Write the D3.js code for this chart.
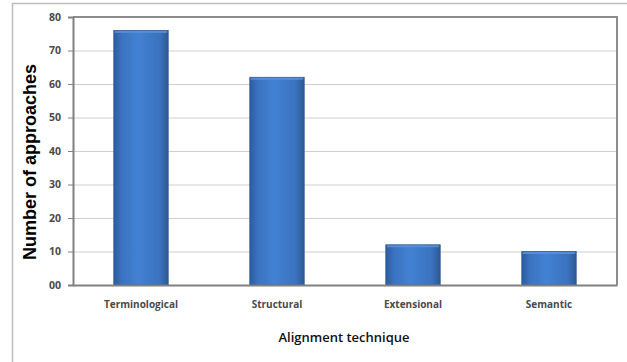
<!DOCTYPE html>
<meta charset="utf-8">
<style>
    body { margin: 0; background: #fff; }
    .tick text { font: bold 10.5px "Open Sans", sans-serif; fill: #4a4a4a; }
</style>
<body>
<script src="https://cdn.jsdelivr.net/npm/d3@7"></script>
<script>

    var categories = ["Terminological", "Structural", "Extensional", "Semantic"];
    var counts = [76, 62, 12, 10];
    var yTicks = [0, 10, 20, 30, 40, 50, 60, 70, 80];
    var yTickLabels = ["00", "10", "20", "30", "40", "50", "60", "70", "80"];

    var margin = { top: 17, right: 10, bottom: 77, left: 73 },
        width = 617 - margin.left,
        height = 285 - margin.top;

    var svg = d3.select("body").append("svg")
        .attr("width", 627)
        .attr("height", 362);

    // outer frame
    svg.append("path")
        .attr("d", "M12.5,362 V3.5 H627")
        .attr("fill", "none")
        .attr("stroke", "#bdbdbd")
        .attr("stroke-width", 1.5);

    var defs = svg.append("defs");
    var grad = defs.append("linearGradient").attr("id", "barGrad")
        .attr("x1", "0%").attr("x2", "100%").attr("y1", "0%").attr("y2", "0%");
    grad.append("stop").attr("offset", "0%").attr("stop-color", "#2c5c9e");
    grad.append("stop").attr("offset", "15%").attr("stop-color", "#3b73c0");
    grad.append("stop").attr("offset", "45%").attr("stop-color", "#4281d3");
    grad.append("stop").attr("offset", "85%").attr("stop-color", "#3a72bd");
    grad.append("stop").attr("offset", "100%").attr("stop-color", "#2b5894");

    var g = svg.append("g")
        .attr("transform", "translate(" + margin.left + "," + margin.top + ")");

    var x = d3.scaleBand().domain(categories).range([0, width]).paddingInner(0.6).paddingOuter(0.3);
    var y = d3.scaleLinear().domain([0, 80]).range([height, 0]);

    // gridlines
    g.selectAll(".grid")
        .data(yTicks.slice(1, -1))
        .enter().append("line")
        .attr("x1", 0).attr("x2", width)
        .attr("y1", function (d) { return y(d) + 0.5; })
        .attr("y2", function (d) { return y(d) + 0.5; })
        .attr("stroke", "#d0d0d0");

    // plot border top and right
    g.append("path")
        .attr("d", "M0," + y(80) + " H" + width + " V" + height)
        .attr("fill", "none")
        .attr("stroke", "#8c8c8c")
        .attr("stroke-width", 2);

    // bars
    var bars = g.selectAll(".bar")
        .data(counts)
        .enter().append("g")
        .attr("class", "bar");

    bars.append("rect")
        .attr("x", function (d, i) { return x(categories[i]); })
        .attr("y", function (d) { return y(d); })
        .attr("width", x.bandwidth())
        .attr("height", function (d) { return height - y(d); })
        .attr("fill", "url(#barGrad)")
        .attr("stroke", "#2d5a93")
        .attr("stroke-width", 0.8);

    bars.append("rect")
        .attr("x", function (d, i) { return x(categories[i]) + 1; })
        .attr("y", function (d) { return y(d) + 0.5; })
        .attr("width", x.bandwidth() - 2)
        .attr("height", 2)
        .attr("fill", "#5d93d8")
        .attr("opacity", 0.8);

    // y axis
    var yAxis = g.append("g")
        .call(d3.axisLeft(y).tickValues(yTicks)
            .tickFormat(function (d, i) { return yTickLabels[i]; })
            .tickSize(5).tickPadding(7));
    yAxis.select(".domain").attr("stroke", "#808080").attr("stroke-width", 2);
    yAxis.selectAll(".tick line").attr("stroke", "#808080");

    // x axis
    var xAxis = g.append("g")
        .attr("transform", "translate(0," + height + ")")
        .call(d3.axisBottom(x).tickSize(0).tickPadding(16));
    xAxis.select(".domain").attr("stroke", "#808080").attr("stroke-width", 2);
    xAxis.selectAll(".tick text").attr("fill", "#333").style("font-size", "10px");

    svg.append("text")
        .attr("x", 344)
        .attr("y", 342)
        .attr("text-anchor", "middle")
        .style("font", "600 13px 'Open Sans', sans-serif")
        .style("fill", "#111")
        .text("Alignment technique");

    svg.append("text")
        .attr("transform", "translate(36,162) rotate(-90)")
        .attr("text-anchor", "middle")
        .style("font", "bold 18px 'Liberation Sans', Arial, sans-serif")
        .style("fill", "#000")
        .text("Number of approaches");

</script>
